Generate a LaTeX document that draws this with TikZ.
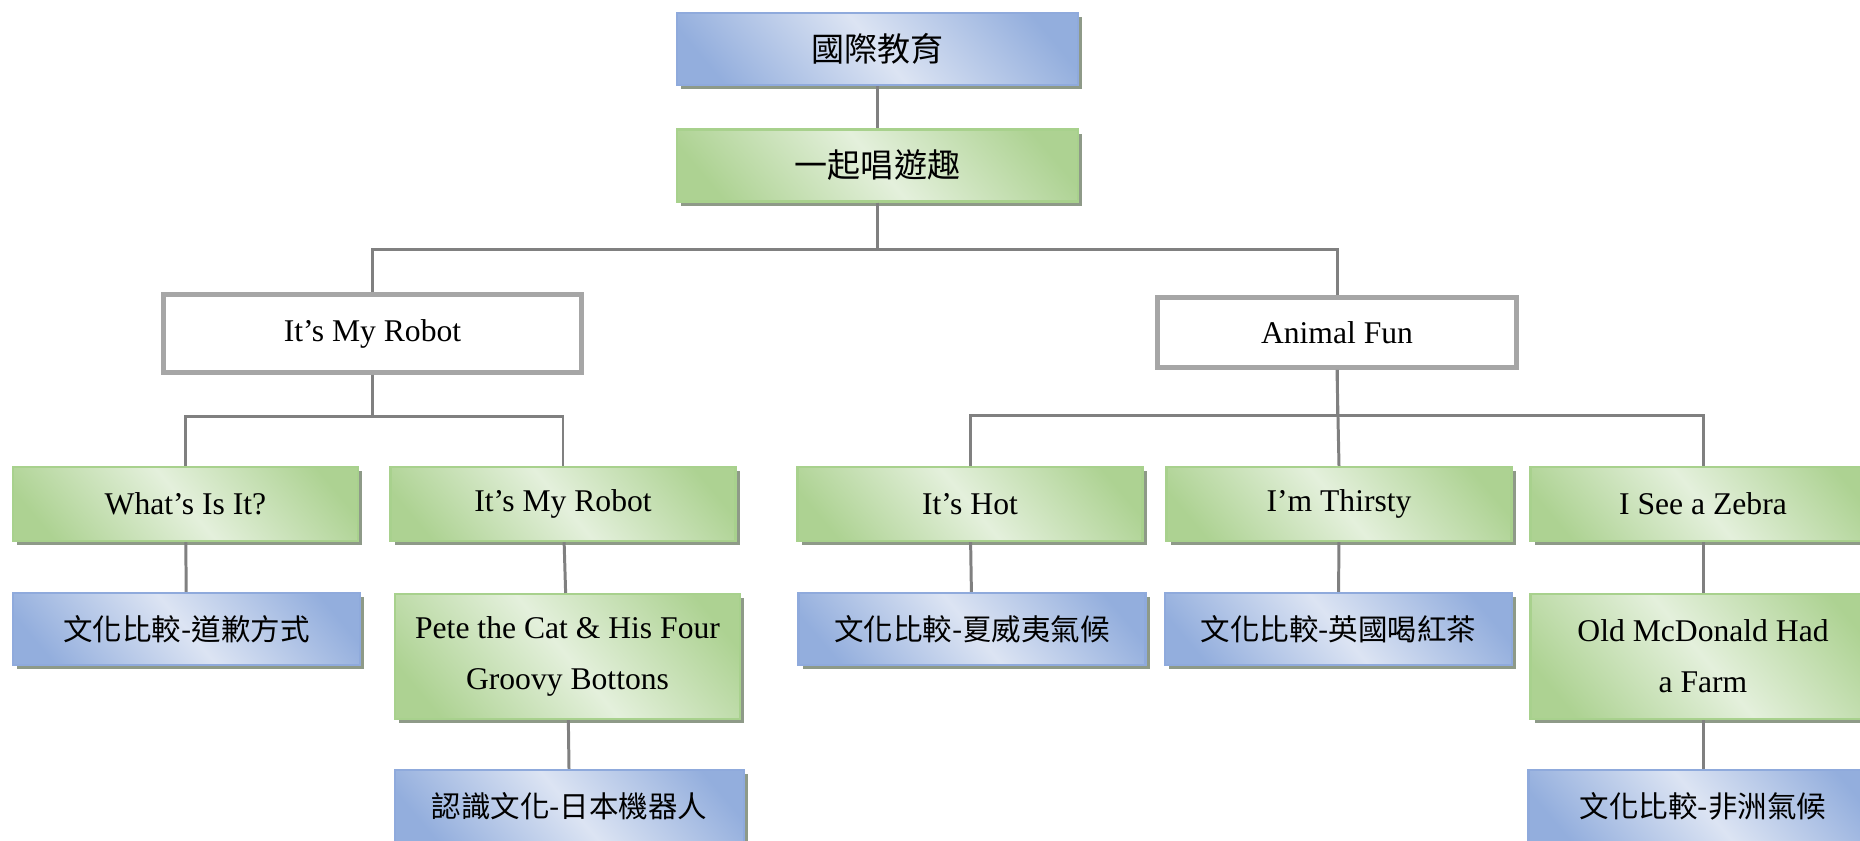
\documentclass[tikz,border=0pt]{standalone}
\usepackage{fontspec}
\setmainfont{Liberation Serif}
\newfontfamily\cjk{Noto Sans CJK TC}
\usetikzlibrary{shadows}
\definecolor{grD}{HTML}{ADD292}
\definecolor{grL}{HTML}{E4F0DC}
\definecolor{grB}{HTML}{A8D18D}
\definecolor{blD}{HTML}{93AEDD}
\definecolor{blL}{HTML}{DCE4F3}
\definecolor{blB}{HTML}{8FAADC}
\definecolor{shd}{HTML}{8E9A88}
\definecolor{lnG}{HTML}{808080}
\definecolor{bxG}{HTML}{A6A6A6}
\pgfdeclarehorizontalshading{greenfade}{100bp}{color(0bp)=(grD); color(22bp)=(grD); color(50bp)=(grL); color(78bp)=(grD); color(100bp)=(grD)}
\pgfdeclarehorizontalshading{bluefade}{100bp}{color(0bp)=(blD); color(22bp)=(blD); color(50bp)=(blL); color(78bp)=(blD); color(100bp)=(blD)}
\tikzset{
  box/.style={draw, line width=1.2pt, inner sep=2pt, align=center,
    font=\fontsize{18}{29}\selectfont,
    drop shadow={shadow xshift=2.3pt, shadow yshift=-2.3pt, fill=shd, opacity=1}},
  greenbox/.style={box, draw=grB, shading=greenfade, shading angle=40},
  bluebox/.style={box, draw=blB, shading=bluefade, shading angle=40},
  whitebox/.style={draw=bxG, line width=2.8pt, fill=white, inner sep=2pt,
    font=\fontsize{18}{29}\selectfont},
  conn/.style={draw=lnG, line width=1.7pt},
  leaf/.style={font=\fontsize{16.8}{26}\selectfont\cjk},
  title/.style={font=\fontsize{18.8}{30}\selectfont\cjk},
}
\begin{document}
\begin{tikzpicture}[x=.02cm,y=-.02cm]
  \useasboundingbox (0,0) rectangle (1860,840);
  % top of the tree
  \node[bluebox, title, minimum width=8.02cm, minimum height=1.44cm] (edu) at (877.5,49) {國際教育};
  \node[greenbox, title, minimum width=8.02cm, minimum height=1.44cm] (sing) at (877.5,165.5) {一起唱遊趣};
  % two units
  \node[whitebox, minimum width=8.36cm, minimum height=1.56cm] (robot) at (372.5,333.5) {It’s My Robot};
  \node[whitebox, minimum width=7.18cm, minimum height=1.40cm] (animal) at (1337,332.5) {Animal Fun};
  % songs
  \node[greenbox, minimum width=6.9cm, minimum height=1.48cm] (what) at (185.5,504) {What’s Is It?};
  \node[greenbox, minimum width=6.9cm, minimum height=1.48cm] (myrobot) at (563,504) {It’s My Robot};
  \node[greenbox, minimum width=6.9cm, minimum height=1.48cm] (hot) at (970,504) {It’s Hot};
  \node[greenbox, minimum width=6.9cm, minimum height=1.48cm] (thirsty) at (1339,504) {I’m Thirsty};
  \node[greenbox, minimum width=6.9cm, minimum height=1.48cm] (zebra) at (1703,504) {I See a Zebra};
  % culture and extra songs
  \node[bluebox, leaf, minimum width=6.94cm, minimum height=1.44cm] (sorry) at (186.5,629) {文化比較-道歉方式};
  \node[greenbox, minimum width=6.9cm, minimum height=2.5cm] (pete) at (567.5,656.5) {Pete the Cat \& His Four\\Groovy Bottons};
  \node[bluebox, leaf, minimum width=6.94cm, minimum height=1.44cm] (hawaii) at (972,629) {文化比較-夏威夷氣候};
  \node[bluebox, leaf, minimum width=6.94cm, minimum height=1.44cm] (tea) at (1338.5,629) {文化比較-英國喝紅茶};
  \node[greenbox, minimum width=6.9cm, minimum height=2.5cm] (farm) at (1703,656.5) {Old McDonald Had\\a Farm};
  \node[bluebox, leaf, minimum width=6.98cm, minimum height=1.44cm] (japan) at (569.5,806) {認識文化-日本機器人};
  \node[bluebox, leaf, minimum width=6.98cm, minimum height=1.44cm] (africa) at (1703,806) {文化比較-非洲氣候};
  % connectors
  \draw[conn] (edu) -- (sing);
  \draw[conn] (sing.south) -- ++(0,47) -| (robot.north);
  \draw[conn] (sing.south) -- ++(0,47) -| (animal.north);
  \draw[conn] (robot.south) -- ++(0,42) -| (what.north);
  \draw[conn] (robot.south) -- ++(0,42) -| (myrobot.north);
  \draw[conn] (animal.south) -- ++(0,46) -| (hot.north);
  \draw[conn] (animal.south) -- ++(0,46) -| (zebra.north);
  \draw[conn] (animal.south) -- (thirsty.north);
  \draw[conn] (what) -- (sorry);
  \draw[conn] (myrobot) -- (pete);
  \draw[conn] (pete) -- (japan);
  \draw[conn] (hot) -- (hawaii);
  \draw[conn] (thirsty) -- (tea);
  \draw[conn] (zebra) -- (farm);
  \draw[conn] (farm) -- (africa);
\end{tikzpicture}
\end{document}
